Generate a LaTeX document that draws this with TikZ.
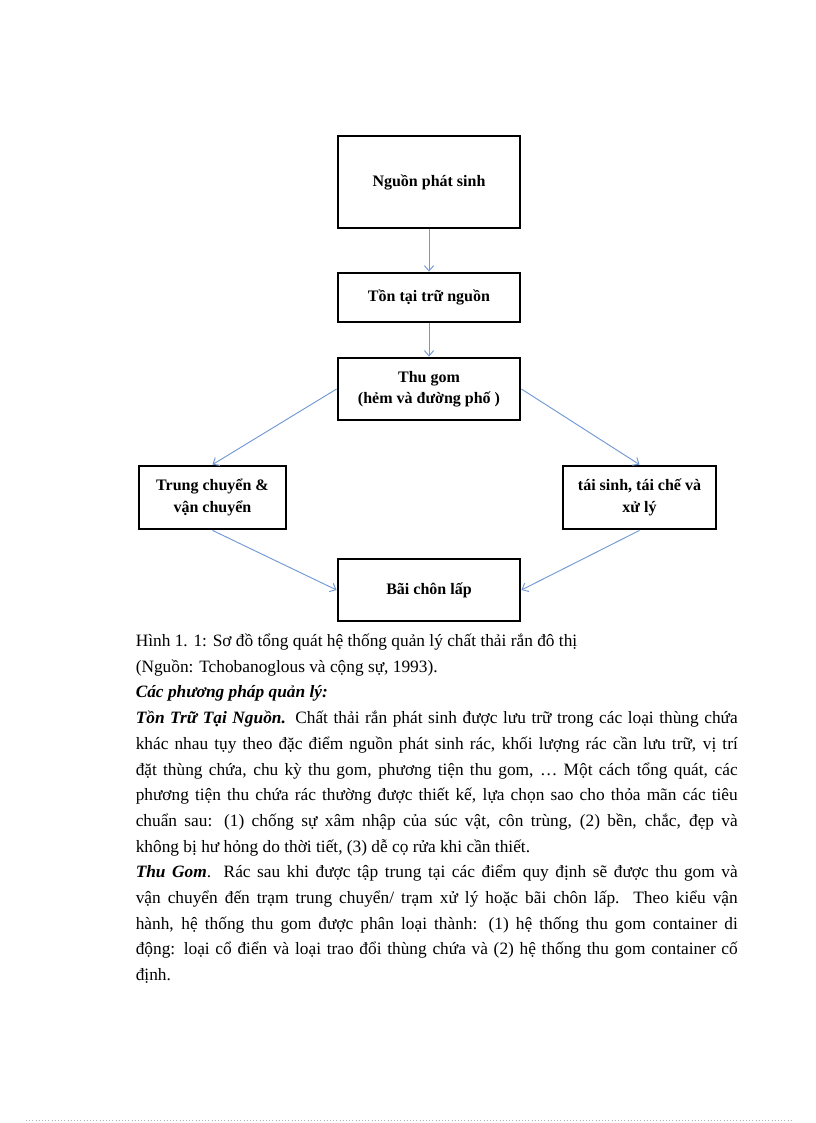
\documentclass[tikz,border=0pt]{standalone}
\usepackage{fontspec}
\setmainfont{Liberation Serif}
\usetikzlibrary{arrows.meta}
\definecolor{linkblue}{RGB}{112,152,212}
\newcommand{\jline}[1]{\makebox[451.5pt][s]{#1}}
\begin{document}
\begin{tikzpicture}[x=0.75pt, y=-0.75pt,
  box/.style={shape=rectangle, draw=black, line width=2.1pt, align=center, inner sep=2pt, font=\fontsize{12}{16}\selectfont\bfseries},
  flow/.style={-{Straight Barb[length=4pt,width=7pt]}, draw=linkblue, line width=0.7pt},
  txt/.style={anchor=base west, inner sep=0pt, font=\fontsize{13}{15}\selectfont}]
\useasboundingbox (0,0) rectangle (816,1123);
\node[box, minimum width=136.5pt, minimum height=69pt] (1) at (429,182) {Nguồn phát sinh};
\node[box, minimum width=136.5pt, minimum height=36.75pt] (2) at (429,297.5) {Tồn tại trữ nguồn};
\node[box, minimum width=136.5pt, minimum height=46.5pt] (3) at (429,389) {Thu gom\\(hẻm và đường phố )};
\node[box, minimum width=110.25pt, minimum height=47.25pt] (4) at (212.5,497.5) {Trung chuyển \&\\vận chuyển};
\node[box, minimum width=114.75pt, minimum height=47.25pt] (5) at (639.5,497.5) {tái sinh, tái chế và\\xử lý};
\node[box, minimum width=136.5pt, minimum height=46.5pt] (6) at (429,590) {Bãi chôn lấp};
\path (1) edge[flow] (2);
\path (2) edge[flow] (3);
\path (3.west) edge[flow] (4.north);
\path (3.east) edge[flow] (5.north);
\path (4.south) edge[flow] (6.west);
\path (5.south) edge[flow] (6.east);
% caption and text below the chart
\node[txt] (cap1) at (135.5,646.5) {Hình 1. 1: Sơ đồ tổng quát hệ thống quản lý chất thải rắn đô thị};
\node[txt] (cap2) at (135.5,672.2) {(Nguồn: Tchobanoglous và cộng sự, 1993).};
\node[txt] (head) at (135.5,697.9) {\textbf{\textit{Các phương pháp quản lý:}}};
\node[txt] (p1) at (135.5,723.6) {\jline{\textbf{\textit{Tồn Trữ Tại Nguồn.}} Chất thải rắn phát sinh được lưu trữ trong các loại thùng chứa}};
\node[txt] (p2) at (135.5,749.3) {\jline{khác nhau tụy theo đặc điểm nguồn phát sinh rác, khối lượng rác cần lưu trữ, vị trí}};
\node[txt] (p3) at (135.5,775.0) {\jline{đặt thùng chứa, chu kỳ thu gom, phương tiện thu gom, … Một cách tổng quát, các}};
\node[txt] (p4) at (135.5,800.7) {\jline{phương tiện thu chứa rác thường được thiết kế, lựa chọn sao cho thỏa mãn các tiêu}};
\node[txt] (p5) at (135.5,826.4) {\jline{chuẩn sau: (1) chống sự xâm nhập của súc vật, côn trùng, (2) bền, chắc, đẹp và}};
\node[txt] (p6) at (135.5,852.1) {không bị hư hỏng do thời tiết, (3) dễ cọ rửa khi cần thiết.};
\node[txt] (q1) at (135.5,877.8) {\jline{\textbf{\textit{Thu Gom}}. Rác sau khi được tập trung tại các điểm quy định sẽ được thu gom và}};
\node[txt] (q2) at (135.5,903.5) {\jline{vận chuyển đến trạm trung chuyển/ trạm xử lý hoặc bãi chôn lấp. Theo kiểu vận}};
\node[txt] (q3) at (135.5,929.2) {\jline{hành, hệ thống thu gom được phân loại thành: (1) hệ thống thu gom container di}};
\node[txt] (q4) at (135.5,954.9) {\jline{động: loại cổ điển và loại trao đổi thùng chứa và (2) hệ thống thu gom container cố}};
\node[txt] (q5) at (135.5,980.6) {định.};
% page edge
\draw[dotted, black!30] (26,1120) -- (791,1120);
\end{tikzpicture}
\end{document}
